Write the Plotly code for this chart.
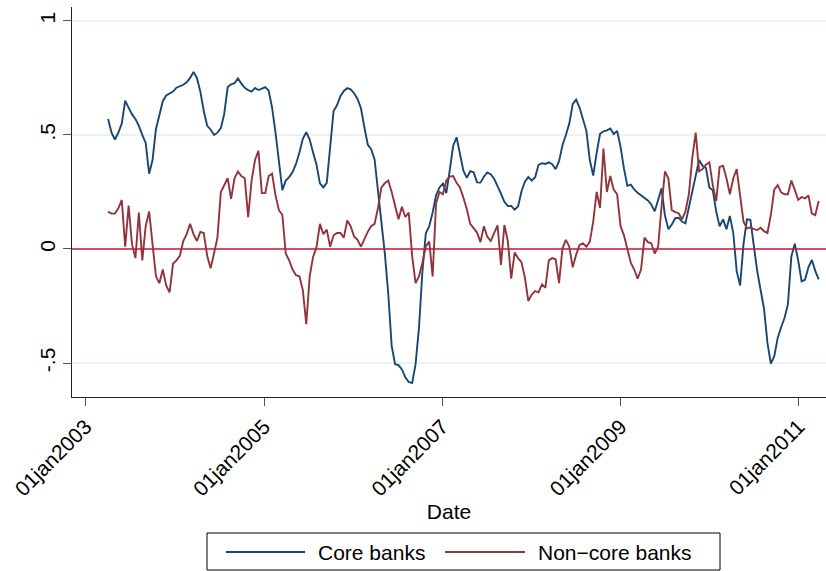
import pandas as pd
import plotly.graph_objects as go

# Bi-weekly observation dates
dates = pd.date_range("2003-04-03", periods=209, freq="14D")

core_banks = [
    0.57, 0.51, 0.48, 0.51, 0.55, 0.65, 0.62, 0.59, 0.57, 0.54,
    0.50, 0.465, 0.33, 0.39, 0.525, 0.59, 0.648, 0.673, 0.68, 0.69,
    0.707, 0.712, 0.72, 0.731, 0.75, 0.776, 0.75, 0.69, 0.605, 0.54,
    0.524, 0.50, 0.51, 0.53, 0.593, 0.71, 0.722, 0.727, 0.748, 0.725,
    0.707, 0.696, 0.69, 0.706, 0.697, 0.703, 0.71, 0.694, 0.62, 0.51,
    0.38, 0.258, 0.30, 0.315, 0.337, 0.373, 0.423, 0.483, 0.512, 0.48,
    0.423, 0.37, 0.288, 0.27, 0.29, 0.46, 0.605, 0.63, 0.67, 0.693,
    0.705, 0.70, 0.683, 0.658, 0.618, 0.535, 0.458, 0.438, 0.393, 0.255,
    0.122, -0.019, -0.195, -0.425, -0.505, -0.509, -0.528, -0.563, -0.583, -0.588,
    -0.505, -0.345, -0.10, 0.069, 0.10, 0.16, 0.235, 0.27, 0.287, 0.245,
    0.345, 0.452, 0.49, 0.415, 0.343, 0.312, 0.341, 0.336, 0.292, 0.291,
    0.317, 0.336, 0.328, 0.308, 0.278, 0.243, 0.207, 0.188, 0.189, 0.172,
    0.186, 0.252, 0.295, 0.316, 0.30, 0.315, 0.369, 0.376, 0.373, 0.38,
    0.372, 0.35, 0.385, 0.455, 0.50, 0.55, 0.635, 0.655, 0.62, 0.567,
    0.518, 0.39, 0.322, 0.42, 0.505, 0.516, 0.52, 0.528, 0.504, 0.518,
    0.449, 0.352, 0.277, 0.282, 0.261, 0.246, 0.234, 0.225, 0.213, 0.195,
    0.165, 0.215, 0.266, 0.147, 0.087, 0.107, 0.135, 0.137, 0.12, 0.112,
    0.18, 0.245, 0.315, 0.39, 0.365, 0.355, 0.27, 0.258, 0.165, 0.099,
    0.13, 0.087, 0.145, 0.07, -0.097, -0.16, 0.022, 0.13, 0.128, 0.01,
    -0.096, -0.18, -0.262, -0.412, -0.503, -0.47, -0.39, -0.343, -0.303, -0.242,
    -0.033, 0.023, -0.05, -0.142, -0.135, -0.08, -0.048, -0.096, -0.133,
]

noncore_banks = [
    0.164, 0.155, 0.155, 0.178, 0.215, 0.01, 0.19, 0.02, -0.04, 0.16,
    -0.05, 0.10, 0.165, 0.02, -0.12, -0.15, -0.09, -0.16, -0.19, -0.065,
    -0.05, -0.03, 0.035, 0.065, 0.11, 0.065, 0.035, 0.075, 0.07, -0.03,
    -0.085, -0.02, 0.05, 0.25, 0.28, 0.31, 0.22, 0.31, 0.34, 0.32,
    0.31, 0.14, 0.30, 0.39, 0.43, 0.245, 0.245, 0.32, 0.33, 0.235,
    0.17, 0.15, -0.02, -0.05, -0.09, -0.115, -0.12, -0.18, -0.33, -0.12,
    -0.035, 0.008, 0.11, 0.065, 0.085, 0.01, 0.06, 0.07, 0.07, 0.05,
    0.125, 0.10, 0.055, 0.04, 0.01, 0.045, 0.075, 0.10, 0.11, 0.18,
    0.27, 0.288, 0.30, 0.25, 0.19, 0.13, 0.185, 0.14, 0.16, -0.03,
    -0.15, -0.12, -0.06, 0.012, 0.032, -0.12, 0.20, 0.25, 0.24, 0.30,
    0.317, 0.32, 0.29, 0.27, 0.225, 0.175, 0.11, 0.09, 0.072, 0.03,
    0.10, 0.054, 0.035, 0.07, 0.104, -0.07, 0.105, 0.035, -0.13, -0.015,
    -0.04, -0.058, -0.125, -0.228, -0.20, -0.185, -0.19, -0.155, -0.17, -0.05,
    -0.04, -0.045, -0.15, 0.003, 0.04, 0.01, -0.08, -0.025, 0.018, 0.025,
    0.01, 0.032, 0.12, 0.25, 0.18, 0.44, 0.25, 0.32, 0.26, 0.24,
    0.10, 0.06, 0.0, -0.06, -0.09, -0.13, -0.09, 0.05, 0.03, 0.025,
    -0.02, 0.01, 0.186, 0.34, 0.31, 0.17, 0.162, 0.157, 0.13, 0.165,
    0.24, 0.40, 0.51, 0.34, 0.35, 0.37, 0.38, 0.28, 0.21, 0.36,
    0.365, 0.31, 0.24, 0.31, 0.35, 0.24, 0.12, 0.09, 0.095, 0.087,
    0.083, 0.093, 0.078, 0.07, 0.15, 0.26, 0.28, 0.248, 0.24, 0.24,
    0.30, 0.26, 0.215, 0.228, 0.222, 0.235, 0.155, 0.148, 0.21,
]

x_tick_dates = ["2003-01-01", "2005-01-01", "2007-01-01", "2009-01-01", "2011-01-01"]
x_tick_labels = ["01jan2003", "01jan2005", "01jan2007", "01jan2009", "01jan2011"]
y_tick_values = [-0.5, 0, 0.5, 1]
y_tick_labels = ["-.5", "0", ".5", "1"]

CORE_COLOR = "#1A476F"
NONCORE_COLOR = "#90353B"
ZERO_COLOR = "#C8173F"
FONT = "Liberation Sans, Arial, Helvetica, sans-serif"
FS = 21

fig = go.Figure()
fig.add_trace(go.Scatter(x=dates, y=core_banks, mode="lines", name="Core banks",
                         line=dict(color=CORE_COLOR, width=1.9)))
fig.add_trace(go.Scatter(x=dates, y=noncore_banks, mode="lines", name="Non\u2212core banks",
                         line=dict(color=NONCORE_COLOR, width=1.9)))

# Reference line at zero
fig.add_shape(type="line", xref="paper", yref="y", x0=0, x1=1, y0=0, y1=0,
              line=dict(color=ZERO_COLOR, width=1.6), layer="above")

fig.update_layout(
    width=826, height=571,
    margin=dict(l=72, r=0, t=7, b=174),
    paper_bgcolor="white", plot_bgcolor="white",
    font=dict(family=FONT, size=FS, color="black"),
    showlegend=False,
)

fig.update_xaxes(
    type="date",
    range=["2002-11-06", "2011-04-23"],
    tickvals=x_tick_dates, ticktext=x_tick_labels,
    tickangle=-45,
    ticks="outside", ticklen=8, tickwidth=1, tickcolor="#555555",
    showline=True, linecolor="#222222", linewidth=1.2,
    showgrid=False, zeroline=False,
    title=dict(text="Date", standoff=0, font=dict(size=FS)),
    tickfont=dict(size=FS),
)

fig.update_yaxes(
    range=[-0.649, 1.061],
    tickvals=y_tick_values, ticktext=y_tick_labels,
    tickangle=-90,
    ticks="outside", ticklen=8, tickwidth=1, tickcolor="#555555",
    showline=True, linecolor="#222222", linewidth=1.2,
    showgrid=True, gridcolor="#EAF2F3", gridwidth=1.5,
    zeroline=False,
    tickfont=dict(size=FS),
)

# Legend box drawn below the plot area
def px_x(p):
    return (p - 72) / 754.0

def px_y(p):
    return (397 - p) / 390.0

fig.add_shape(type="rect", xref="paper", yref="paper",
              x0=px_x(207), x1=px_x(720), y0=px_y(570), y1=px_y(533),
              line=dict(color="black", width=1), fillcolor="white")
fig.add_shape(type="line", xref="paper", yref="paper",
              x0=px_x(226), x1=px_x(305), y0=px_y(552), y1=px_y(552),
              line=dict(color=CORE_COLOR, width=1.9))
fig.add_shape(type="line", xref="paper", yref="paper",
              x0=px_x(445), x1=px_x(525), y0=px_y(552), y1=px_y(552),
              line=dict(color=NONCORE_COLOR, width=1.9))
fig.add_annotation(xref="paper", yref="paper", x=px_x(316), y=px_y(552),
                   text="Core banks", showarrow=False, xanchor="left", yanchor="middle",
                   font=dict(size=FS))
fig.add_annotation(xref="paper", yref="paper", x=px_x(536), y=px_y(552),
                   text="Non\u2212core banks", showarrow=False, xanchor="left", yanchor="middle",
                   font=dict(size=FS))

fig.write_html("out.html")
